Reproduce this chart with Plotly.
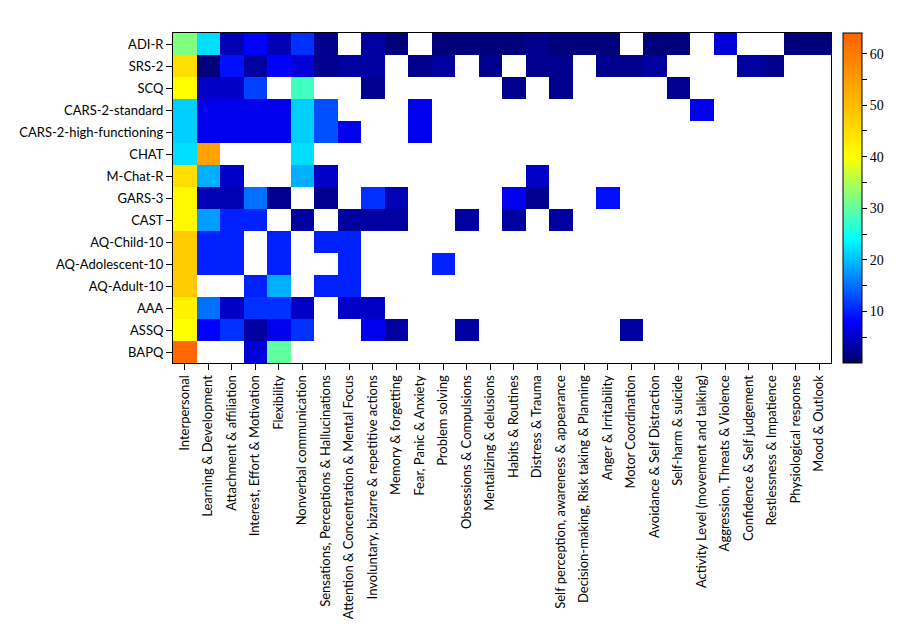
import plotly.graph_objects as go

N = None

categories = [
    "Interpersonal", "Learning & Development", "Attachment & affiliation",
    "Interest, Effort & Motivation", "Flexibility", "Nonverbal communication",
    "Sensations, Perceptions & Hallucinations",
    "Attention & Concentration & Mental Focus",
    "Involuntary, bizarre & repetitive actions", "Memory & forgetting",
    "Fear, Panic & Anxiety", "Problem solving", "Obsessions & Compulsions",
    "Mentalizing & delusions", "Habits & Routines", "Distress & Trauma",
    "Self perception, awareness & appearance",
    "Decision-making, Risk taking & Planning", "Anger & Irritability",
    "Motor Coordination", "Avoidance & Self Distraction", "Self-harm & suicide",
    "Activity Level (movement and talking)", "Aggression, Threats & Violence",
    "Confidence & Self judgement", "Restlessness & Impatience",
    "Physiological response", "Mood & Outlook",
]

instruments = [
    "ADI-R", "SRS-2", "SCQ", "CARS-2-standard", "CARS-2-high-functioning",
    "CHAT", "M-Chat-R", "GARS-3", "CAST", "AQ-Child-10", "AQ-Adolescent-10",
    "AQ-Adult-10", "AAA", "ASSQ", "BAPQ",
]

adi_r = [32, 22, 4, 8, 4, 11, 2, N, 3, 1, N, 1, 1, 1, 1, 2, 1, 1, 1, N, 1, 1, N, 6, N, N, 1, 1]
srs_2 = [45, 1, 9, 3, 8, 6, 2, 3, 3, N, 2, 3, N, 2, N, 2, 2, N, 2, 2, 3, N, N, N, 3, 2, N, N]
scq = [40, 5, 5, 12, N, 28, N, N, 2, N, N, N, N, N, 2, N, 2, N, N, N, N, 2, N, N, N, N, N, N]
cars2_std = [21, 7, 7, 7, 7, 21, 13, N, N, N, 7, N, N, N, N, N, N, N, N, N, N, N, 7, N, N, N, N, N]
cars2_hf = [21, 7, 7, 7, 7, 21, 13, 7, N, N, 7, N, N, N, N, N, N, N, N, N, N, N, N, N, N, N, N, N]
chat = [22, 54, N, N, N, 22, N, N, N, N, N, N, N, N, N, N, N, N, N, N, N, N, N, N, N, N, N, N]
mchat_r = [45, 19, 5, N, N, 19, 5, N, N, N, N, N, N, N, N, 5, N, N, N, N, N, N, N, N, N, N, N, N]
gars_3 = [41, 4, 4, 15, 2, N, 2, N, 11, 4, N, N, N, N, 7, 2, N, N, 9, N, N, N, N, N, N, N, N, N]
cast = [41, 18, 10, 10, N, 3, N, 3, 3, 3, N, N, 3, N, 3, N, 3, N, N, N, N, N, N, N, N, N, N, N]
aq_child = [48, 10, 10, N, 10, N, 10, 10, N, N, N, N, N, N, N, N, N, N, N, N, N, N, N, N, N, N, N, N]
aq_adol = [48, 10, 10, N, 10, N, N, 10, N, N, N, 10, N, N, N, N, N, N, N, N, N, N, N, N, N, N, N, N]
aq_adult = [48, N, N, 10, 19, N, 10, 10, N, N, N, N, N, N, N, N, N, N, N, N, N, N, N, N, N, N, N, N]
aaa = [42, 15, 5, 11, 11, 5, N, 5, 5, N, N, N, N, N, N, N, N, N, N, N, N, N, N, N, N, N, N, N]
assq = [40, 8, 11, 3, 7, 11, N, N, 7, 3, N, N, 3, N, N, N, N, N, N, 3, N, N, N, N, N, N, N, N]
bapq = [63, N, N, 6, 30, N, N, N, N, N, N, N, N, N, N, N, N, N, N, N, N, N, N, N, N, N, N, N]

z = [adi_r, srs_2, scq, cars2_std, cars2_hf, chat, mchat_r, gars_3, cast,
     aq_child, aq_adol, aq_adult, aaa, assq, bapq]

cbar_ticks = [5, 10, 15, 20, 25, 30, 35, 40, 45, 50, 55, 60]
cbar_text = ["" if v % 10 else str(v) for v in cbar_ticks]

colorscale = [
    [0.0, "#000068"],
    [8 / 64, "#0000FF"],
    [24 / 64, "#00FFFF"],
    [32 / 64, "#80FF80"],
    [40 / 64, "#FFFF00"],
    [1.0, "#FF6000"],
]

fig = go.Figure(go.Heatmap(
    z=z, x=categories, y=instruments,
    zmin=0, zmax=64, colorscale=colorscale,
    hoverongaps=False,
    colorbar=dict(
        x=1.018, xanchor="left", y=0.5, yanchor="middle",
        len=1.0, lenmode="fraction", thickness=19,
        xpad=0, ypad=0,
        outlinecolor="black", outlinewidth=1,
        ticks="outside", ticklen=5, tickcolor="black",
        tickvals=cbar_ticks, ticktext=cbar_text,
        tickfont=dict(family="Liberation Serif", size=14, color="black"),
    ),
))

fig.update_layout(
    width=912, height=637,
    margin=dict(l=165, r=89, t=25, b=282, autoexpand=False),
    paper_bgcolor="white", plot_bgcolor="white",
    font=dict(family="Lato", size=13, color="black"),
)
fig.update_xaxes(
    automargin=False,
    tickangle=-90, ticks="outside", ticklen=6, tickcolor="black",
    showline=True, linecolor="black", linewidth=1, mirror=True,
    showgrid=False, zeroline=False,
    tickfont=dict(family="Lato", size=13, color="black"),
)
fig.update_yaxes(
    automargin=False,
    autorange="reversed", ticks="outside", ticklen=6, tickcolor="black",
    showline=True, linecolor="black", linewidth=1, mirror=True,
    showgrid=False, zeroline=False,
    tickfont=dict(family="Lato", size=13, color="black"),
)

fig.write_html("out.html")
